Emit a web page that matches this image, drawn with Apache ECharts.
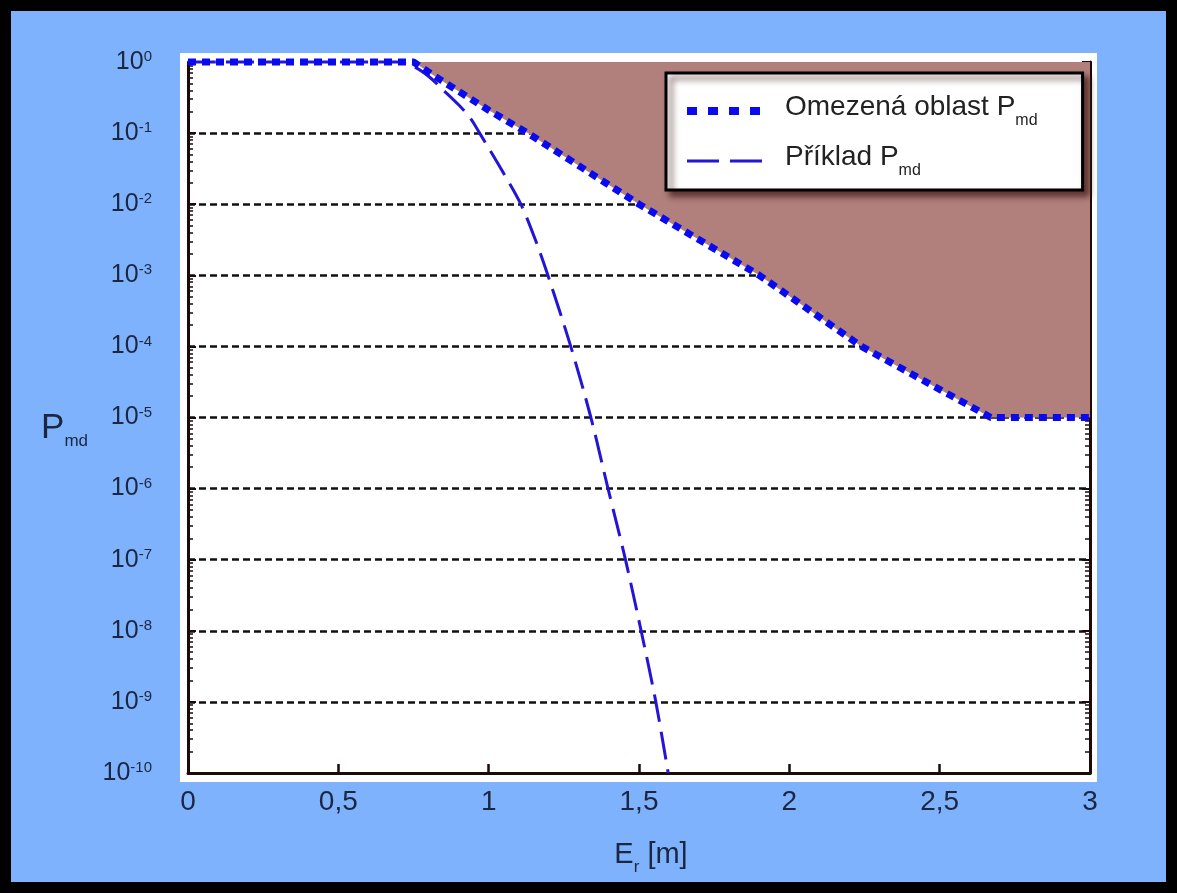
<!DOCTYPE html>
<html>
<head>
<meta charset="utf-8">
<title>Pmd</title>
<script src="https://cdn.jsdelivr.net/npm/echarts@6/dist/echarts.min.js"></script>
<style>
  body{margin:0;}
  #pmdChart{width:1177px;height:893px;background:#7fb2fd;box-shadow:inset 0 0 0 11px #000;}
</style>
</head>
<body>
<div id="pmdChart"></div>
<script>
  // omezena oblast (hranice) - E_r [m] / P_md
  var boundEr = [0, 0.75, 0.84, 1.0, 1.13, 1.5, 1.9, 2.24, 2.67, 3];
  var boundPmd = [1, 1, 0.56, 0.21, 0.1, 1e-2, 1e-3, 1e-4, 1e-5, 1e-5];

  // priklad P_md
  var exampleEr = [0, 0.7, 0.75, 0.8, 0.85, 0.9, 0.94, 0.97, 1.04, 1.107, 1.16, 1.197, 1.273, 1.34, 1.397, 1.455, 1.507, 1.556, 1.597];
  var examplePmd = [1, 1, 0.87, 0.63, 0.4, 0.25, 0.16, 0.1, 3.2e-2, 1e-2, 2.8e-3, 1e-3, 1e-4, 1e-5, 1e-6, 1e-7, 1e-8, 1e-9, 1e-10];

  var xTickLabels = ['0', '0,5', '1', '1,5', '2', '2,5', '3'];
  var yTickExp = ['0', '-1', '-2', '-3', '-4', '-5', '-6', '-7', '-8', '-9', '-10'];

  var seriesNames = ['Omezená oblast Pmd', 'Příklad Pmd'];
  var legendText = {'Omezená oblast Pmd': 'Omezená oblast P', 'Příklad Pmd': 'Příklad P'};

  var font = 'Liberation Sans, Arial, sans-serif';
  var txtColor = '#1b2640';

  function pairs(xs, ys) {
    var out = [];
    for (var i = 0; i < xs.length; i++) out.push([xs[i], ys[i]]);
    return out;
  }

  var chart = echarts.init(document.getElementById('pmdChart'));

  var option = {
    animation: false,
    textStyle: {fontFamily: font},
    graphic: [{
      type: 'rect', z: -10,
      shape: {x: 180, y: 53, width: 917, height: 729},
      style: {fill: '#ffffff'}
    }],
    grid: {left: 188, right: 87, top: 62, bottom: 120},
    legend: {
      data: [
        {name: seriesNames[0], lineStyle: {width: 8, type: [10, 11]}},
        {name: seriesNames[1], lineStyle: {width: 3, type: [32, 11]}}
      ],
      orient: 'vertical',
      left: 666, top: 73,
      itemWidth: 75, itemHeight: 14, itemGap: 14,
      padding: [20, 45, 11, 17],
      backgroundColor: '#ffffff',
      borderColor: '#000000', borderWidth: 3, borderRadius: 0,
      shadowColor: 'rgba(60,20,20,0.7)', shadowBlur: 6, shadowOffsetX: 5, shadowOffsetY: 5,
      itemStyle: {opacity: 0},
      formatter: function (name) {
        return '{g|}{t|' + legendText[name] + '}{s|md}';
      },
      textStyle: {
        color: '#222222',
        rich: {
          g: {width: 18, lineHeight: 36, verticalAlign: 'top'},
          t: {fontSize: 28, lineHeight: 36, verticalAlign: 'top', fontFamily: font, color: '#222222'},
          s: {fontSize: 16, lineHeight: 16, verticalAlign: 'bottom', fontFamily: font, color: '#222222'}
        }
      }
    },
    xAxis: {
      type: 'value', min: 0, max: 3, interval: 0.5,
      name: '{a|E}{s|r}{a| [m]}',
      nameLocation: 'middle', nameGap: 67,
      nameTextStyle: {
        padding: [0, 0, 0, 24],
        rich: {
          a: {fontSize: 29, lineHeight: 36, verticalAlign: 'top', color: txtColor, fontFamily: font},
          s: {fontSize: 17, lineHeight: 17, verticalAlign: 'bottom', color: txtColor, fontFamily: font}
        }
      },
      axisLine: {show: true, lineStyle: {color: '#1a0a0a', width: 3}},
      axisTick: {show: true, inside: true, length: 9, lineStyle: {color: '#1a0a0a', width: 2.5}},
      axisLabel: {
        fontSize: 28, color: txtColor, margin: 15,
        formatter: function (v) { return xTickLabels[Math.round(v / 0.5)]; }
      },
      splitLine: {show: false}
    },
    yAxis: [{
      type: 'log', logBase: 10, min: 1e-10, max: 1, interval: 1,
      name: '{p|P}{s|md}',
      nameLocation: 'middle', nameRotate: 0, nameGap: 100,
      nameTextStyle: {
        padding: [26, 0, 0, 0],
        rich: {
          p: {fontSize: 35, lineHeight: 39, verticalAlign: 'top', color: txtColor, fontFamily: font},
          s: {fontSize: 17, lineHeight: 17, verticalAlign: 'bottom', color: txtColor, fontFamily: font}
        }
      },
      axisLine: {show: true, lineStyle: {color: '#1a0a0a', width: 3}},
      axisTick: {show: true, inside: true, length: 8, lineStyle: {color: '#1a0a0a', width: 2}},
      minorTick: {show: true, splitNumber: 9, length: 5, lineStyle: {color: '#1a0a0a', width: 1.5}},
      axisLabel: {
        margin: 36,
        formatter: function (v) {
          var idx = -Math.round(Math.log10(v));
          return '{b|10}{e|' + yTickExp[idx] + '}';
        },
        rich: {
          b: {fontSize: 25, lineHeight: 25, color: txtColor, fontFamily: font},
          e: {fontSize: 15, lineHeight: 15, verticalAlign: 'top', color: txtColor, fontFamily: font}
        }
      },
      splitLine: {show: true, showMinLine: false, showMaxLine: false, lineStyle: {color: '#111111', width: 2.5, type: [7, 4]}}
    }, {
      type: 'log', logBase: 10, min: 1e-10, max: 1, interval: 1,
      position: 'right',
      axisLine: {show: true, lineStyle: {color: '#1a0a0a', width: 3}},
      axisTick: {show: true, inside: true, length: 8, lineStyle: {color: '#1a0a0a', width: 2}},
      minorTick: {show: true, splitNumber: 9, length: 5, lineStyle: {color: '#1a0a0a', width: 1.5}},
      axisLabel: {show: false},
      splitLine: {show: false}
    }],
    series: [{
      name: 'oblast',
      type: 'line',
      data: pairs(boundEr, boundPmd),
      symbol: 'none',
      silent: true,
      z: 1,
      lineStyle: {width: 0},
      areaStyle: {color: '#b1807c', opacity: 1, origin: 'end'}
    }, {
      name: seriesNames[1],
      type: 'line',
      data: pairs(exampleEr, examplePmd),
      symbol: 'none',
      smooth: 0.3,
      clip: false,
      z: 3,
      color: '#2415d6',
      lineStyle: {color: '#2415d6', width: 3, type: [28, 10]}
    }, {
      name: seriesNames[0],
      type: 'line',
      data: pairs(boundEr, boundPmd),
      symbol: 'none',
      clip: false,
      z: 4,
      color: '#0a0af0',
      lineStyle: {color: '#0a0af0', width: 7, type: [8, 6]}
    }]
  };

  chart.setOption(option);
</script>
</body>
</html>
